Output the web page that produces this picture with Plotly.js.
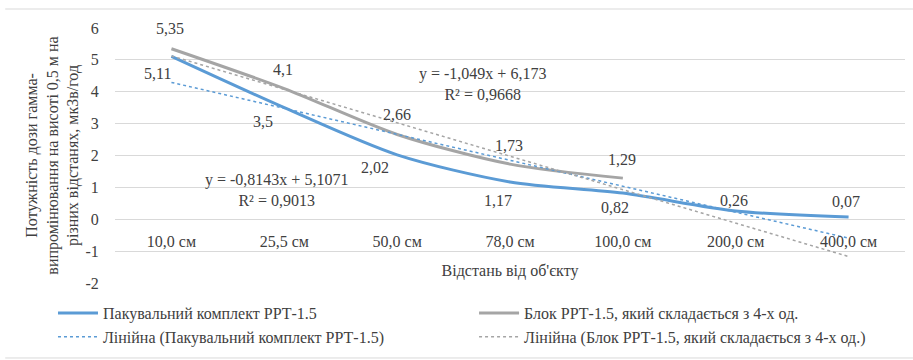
<!DOCTYPE html>
<html>
<head>
<meta charset="utf-8">
<script src="https://cdn.plot.ly/plotly-3.0.1.min.js"></script>
</head>
<body style="margin:0">
<div id="chart" style="width:913px;height:360px"></div>
<script>
// ---- data ----
const categories = ["10,0 см", "25,5 см", "50,0 см", "78,0 см", "100,0 см", "200,0 см", "400,0 см"];
const packValues = [5.11, 3.5, 2.02, 1.17, 0.82, 0.26, 0.07];
const blockValues = [5.35, 4.1, 2.66, 1.73, 1.29];
const packTrendSlope = -0.8143, packTrendIntercept = 5.1071, packR2 = "0,9013";
const blockTrendSlope = -1.049, blockTrendIntercept = 6.173, blockR2 = "0,9668";
const seriesNames = ["Пакувальний комплект РРТ-1.5", "Блок РРТ-1.5, який складається з 4-х од."];
const yTicks = [-2, -1, 0, 1, 2, 3, 4, 5, 6];

// ---- styles ----
const serifFont = {family: "Liberation Serif", size: 16, color: "#404040"};
const BLUE = "#5B9BD5", GRAY = "#A5A5A5";
const packLabelOffsets = [[-14, -17], [-21, -14], [-22, -13], [-12, -19], [-8, -14], [-2, 10], [-3, 16]];
const blockLabelOffsets = [[-1, 20], [-1, 19], [0, 20], [-1, 19], [-1, 19]];

const fmt = v => String(v).replace(".", ",");
const trend = (slope, icpt) => categories.map((c, i) => slope * (i + 1) + icpt);

const traces = [
  {x: categories, y: packValues, name: seriesNames[0], type: "scatter", mode: "lines",
   legend: "legend", legendgroup: "a",
   line: {color: BLUE, width: 3, shape: "spline", smoothing: 0.8}},
  {x: categories.slice(0, blockValues.length), y: blockValues, name: seriesNames[1], type: "scatter", mode: "lines",
   legend: "legend2", legendgroup: "b",
   line: {color: GRAY, width: 3, shape: "spline", smoothing: 0.8}},
  {x: categories, y: trend(packTrendSlope, packTrendIntercept), name: "Лінійна (" + seriesNames[0] + ")",
   legend: "legend", legendgroup: "c",
   type: "scatter", mode: "lines", line: {color: BLUE, width: 1.5, dash: "dot"}},
  {x: categories, y: trend(blockTrendSlope, blockTrendIntercept), name: "Лінійна (" + seriesNames[1] + ")",
   legend: "legend2", legendgroup: "d",
   type: "scatter", mode: "lines", line: {color: GRAY, width: 1.5, dash: "dot"}}
];

const annotations = [];
packValues.forEach((v, i) => annotations.push({x: categories[i], y: v, xref: "x", yref: "y", text: fmt(v),
  showarrow: false, xshift: packLabelOffsets[i][0], yshift: packLabelOffsets[i][1], font: serifFont}));
blockValues.forEach((v, i) => annotations.push({x: categories[i], y: v, xref: "x", yref: "y", text: fmt(v),
  showarrow: false, xshift: blockLabelOffsets[i][0], yshift: blockLabelOffsets[i][1], font: serifFont}));
annotations.push({xref: "paper", yref: "paper", x: 0.1114, y: 0.3647, showarrow: false, align: "center",
  text: "y = " + fmt(packTrendSlope) + "x + " + fmt(packTrendIntercept) + "<br>R² = " + packR2, font: serifFont});
annotations.push({xref: "paper", yref: "paper", x: 0.4646, y: 0.8627, showarrow: false, align: "center",
  text: "y = " + fmt(blockTrendSlope) + "x + " + fmt(blockTrendIntercept) + "<br>R² = " + blockR2, font: serifFont});

const legendCommon = {orientation: "v", yanchor: "top", xanchor: "left", y: -0.051,
  itemwidth: 40, tracegroupgap: 0, traceorder: "grouped", font: serifFont, bgcolor: "rgba(0,0,0,0)"};

const layout = {
  width: 913, height: 360,
  margin: {l: 115, r: 8, t: 28, b: 77, autoexpand: false},
  paper_bgcolor: "#fff", plot_bgcolor: "#fff",
  showlegend: true,
  xaxis: {type: "category", range: [-0.5, 6.5], anchor: "free", position: 0.25, automargin: false,
    showgrid: false, zeroline: false, showline: false,
    ticks: "outside", ticklen: 8, tickcolor: "rgba(0,0,0,0)", tickfont: serifFont,
    title: {text: "Відстань від об'єкту", font: serifFont, standoff: 15}},
  yaxis: {range: [-2, 6], tickvals: yTicks, ticktext: yTicks.map(String), showgrid: true, gridcolor: "#d9d9d9", gridwidth: 1,
    zeroline: false, showline: false, ticks: "outside", ticklen: 12, tickcolor: "rgba(0,0,0,0)", automargin: false,
    tickfont: serifFont,
    title: {text: "Потужність дози гамма-<br>випромінювання на висоті 0,5 м на<br>різних відстанях, мкЗв/год",
      font: serifFont, standoff: 2}},
  legend: Object.assign({}, legendCommon, {x: -0.0785}),
  legend2: Object.assign({}, legendCommon, {x: 0.4545}),
  annotations: annotations,
  shapes: [
    {type: "line", xref: "paper", yref: "paper", x0: -0.139, x1: 1.0101, y0: 1.0745, y1: 1.0745, line: {color: "#d9d9d9", width: 1}},
    {type: "line", xref: "paper", yref: "paper", x0: -0.139, x1: 1.0101, y0: -0.294, y1: -0.294, line: {color: "#d9d9d9", width: 1}}
  ]
};

Plotly.newPlot("chart", traces, layout, {staticPlot: true});
</script>
</body>
</html>
